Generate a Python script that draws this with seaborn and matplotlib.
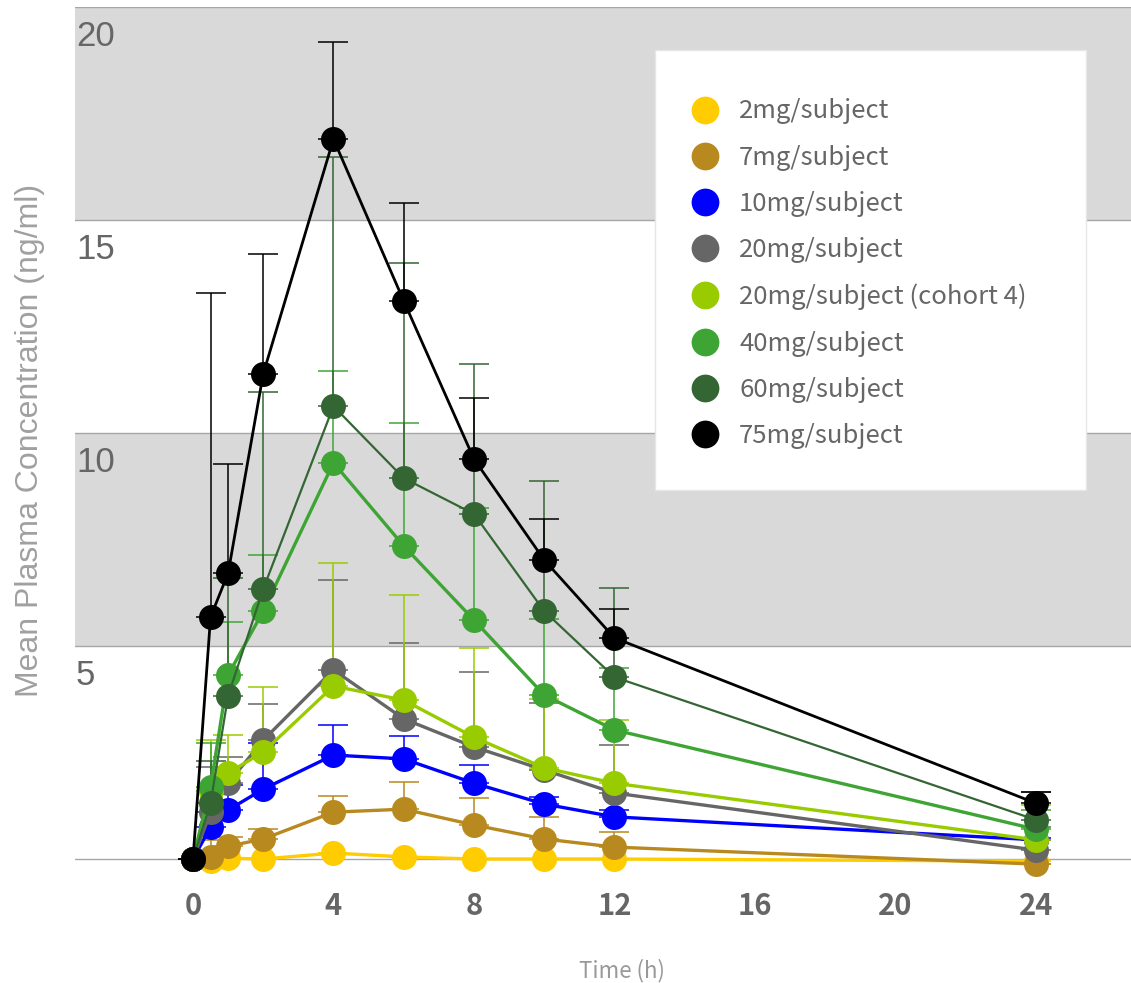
import numpy as np
import pandas as pd
import matplotlib
matplotlib.use("Agg")
import matplotlib.pyplot as plt
import seaborn as sns
from matplotlib.lines import Line2D
from matplotlib.patches import Rectangle
from matplotlib.transforms import ScaledTranslation
from matplotlib.font_manager import FontProperties

# ---------------- data ----------------
times = [0, 0.5, 1, 2, 4, 6, 8, 10, 12, 24]

labels = ["2mg/subject", "7mg/subject", "10mg/subject", "20mg/subject",
          "20mg/subject (cohort 4)", "40mg/subject", "60mg/subject", "75mg/subject"]

mg2 = [0, -0.05, 0.02, 0.0, 0.14, 0.05, 0.0, 0.0, 0.0, -0.05]
mg2_err = [0, 0, 0, 0, 0, 0, 0, 0, 0, 0]
mg7 = [0, 0.05, 0.30, 0.47, 1.10, 1.17, 0.80, 0.47, 0.28, -0.12]
mg7_err = [0, 0.40, 0.22, 0.23, 0.38, 0.64, 0.63, 0.52, 0.35, 0]
mg10 = [0, 0.75, 1.15, 1.64, 2.44, 2.35, 1.78, 1.29, 0.99, 0.45]
mg10_err = [0, 0.35, 0.59, 1.08, 0.71, 0.54, 0.43, 0.17, 0.16, 0.05]
mg20 = [0, 1.10, 1.78, 2.79, 4.44, 3.29, 2.63, 2.09, 1.55, 0.21]
mg20_err = [0, 1.06, 0.61, 0.85, 2.11, 1.78, 1.76, 1.57, 1.13, 0.54]
mg20c4 = [0, 1.60, 2.02, 2.51, 4.06, 3.73, 2.86, 2.14, 1.78, 0.45]
mg20c4_err = [0, 1.20, 0.89, 1.53, 2.89, 2.47, 2.09, 1.62, 1.48, 0.82]
mg40 = [0, 1.69, 4.32, 5.82, 9.30, 7.35, 5.61, 3.85, 3.03, 0.70]
mg40_err = [0, 1.03, 1.24, 1.32, 2.16, 2.88, 2.63, 1.78, 1.45, 0.45]
mg60 = [0, 1.31, 3.83, 6.34, 10.63, 8.94, 8.10, 5.82, 4.27, 0.92]
mg60_err = [0, 1.00, 2.77, 4.62, 5.85, 5.05, 3.52, 3.05, 2.09, 0.65]
mg75 = [0, 5.68, 6.71, 11.39, 16.90, 13.10, 9.39, 7.02, 5.19, 1.31]
mg75_err = [0, 7.61, 2.56, 2.81, 2.28, 2.30, 1.43, 0.96, 0.68, 0.26]

colors = ["#ffcc00", "#b8891e", "#0000ff", "#666666",
          "#99cc00", "#3ea535", "#336633", "#000000"]

xticks = [0, 4, 8, 12, 16, 20, 24]
yticks = [0, 5, 10, 15, 20]
ytick_labels = ["", "5", "10", "15", "20"]

series = [mg2, mg7, mg10, mg20, mg20c4, mg40, mg60, mg75]
errors = [mg2_err, mg7_err, mg10_err, mg20_err, mg20c4_err, mg40_err, mg60_err, mg75_err]
linewidths = [2.4, 2.4, 2.4, 2.4, 2.4, 2.4, 1.6, 2.0]

# ---------------- figure ----------------
sns.set_style("white")
plt.rcParams["font.family"] = ["Liberation Sans", "DejaVu Sans"]

W, H = 1131, 983
fig = plt.figure(figsize=(W / 100, H / 100), dpi=100)
ax_left, ax_right, ax_top, ax_bottom = 75, 1131, 7, 883
ax = fig.add_axes([ax_left / W, 1 - ax_bottom / H, (ax_right - ax_left) / W, (ax_bottom - ax_top) / H])

ax.set_xlim(-3.36, 26.71)
ax.set_ylim(-0.563, 20)

# background bands
ax.axhspan(5, 10, color="#d9d9d9", lw=0, zorder=0)
ax.axhspan(15, 20, color="#d9d9d9", lw=0, zorder=0)

ax.set_yticks(yticks)
ax.set_yticklabels(ytick_labels)
ax.set_xticks(xticks)
ax.set_xticklabels([str(t) for t in xticks])
ax.grid(axis="y", color="#a6a6a6", lw=1.0, zorder=0.5)
ax.grid(axis="x", visible=False)
ax.set_axisbelow(True)
for s in ax.spines.values():
    s.set_visible(False)
ax.tick_params(axis="both", length=0)

# error bars (upper only)
for i, (vals, err, c) in enumerate(zip(series, errors, colors)):
    ax.errorbar(times, vals, yerr=[np.zeros(len(err)), err], fmt="none",
                ecolor=c, elinewidth=1.1, capsize=11, capthick=1.1, zorder=2 + i * 0.01)

# lines + markers
for i, (vals, c, lw, lab) in enumerate(zip(series, colors, linewidths, labels)):
    df = pd.DataFrame({"time": times, "conc": vals})
    sns.lineplot(data=df, x="time", y="conc", ax=ax, color=c, linewidth=lw,
                 marker="o", markersize=18, markeredgewidth=0, sort=False,
                 legend=False, zorder=3 + i * 0.01)

ax.set_xlabel("")
ax.set_ylabel("")

# y tick labels inside the plot, just under each gridline
for lbl in ax.get_yticklabels():
    lbl.set_horizontalalignment("left")
    lbl.set_verticalalignment("center")
    lbl.set_fontsize(25)
    lbl.set_color("#666666")
    lbl.set_fontfamily(["Liberation Sans", "DejaVu Sans"])
    pad_px = ax.yaxis.get_major_ticks()[0].get_pad() * 100 / 72
    lbl.set_transform(lbl.get_transform() + ScaledTranslation((pad_px + 1) / 100, -29.5 / 100, fig.dpi_scale_trans))

for lbl in ax.get_xticklabels():
    lbl.set_fontsize(21)
    lbl.set_color("#666666")
    lbl.set_fontweight("bold")
    lbl.set_fontfamily(["Noto Sans CJK JP", "DejaVu Sans"])
ax.tick_params(axis="x", pad=6)

ax.set_xlabel("Time (h)", fontsize=16, color="#999999", family=["Noto Sans CJK JP", "DejaVu Sans"])
ax.xaxis.set_label_coords((622 - ax_left) / (ax_right - ax_left), -(959 - ax_bottom) / (ax_bottom - ax_top))
ax.set_ylabel("Mean Plasma Concentration (ng/ml)", fontsize=23, color="#a0a0a0",
              family=["Liberation Sans", "DejaVu Sans"])
ax.yaxis.set_label_coords(-(ax_left - 45) / (ax_right - ax_left), (ax_bottom - 440) / (ax_bottom - ax_top))

# legend box
box = Rectangle((655 / W, 1 - 490 / H), (1086 - 655) / W, (490 - 50) / H,
                transform=fig.transFigure, facecolor="white", edgecolor="#e6e6e6",
                lw=1.0, zorder=10, clip_on=False)
ax.add_patch(box)

handles = [Line2D([], [], ls="none", marker="o", markersize=20, markeredgewidth=0, color=c)
           for c in colors]
fs = 18.5
fs_px = fs * 100 / 72
leg = ax.legend(handles, labels, loc="upper left",
                bbox_to_anchor=((705 - fs_px / 2) / W, 1 - 98.5 / H),
                bbox_transform=fig.transFigure, frameon=False, borderpad=0, borderaxespad=0,
                handlelength=1.0, handletextpad=0.83, labelspacing=0.79,
                prop=FontProperties(family=["Noto Sans CJK JP", "DejaVu Sans"], size=fs),
                labelcolor="#666666")
leg.set_zorder(11)

fig.savefig("out.png", dpi=100)
